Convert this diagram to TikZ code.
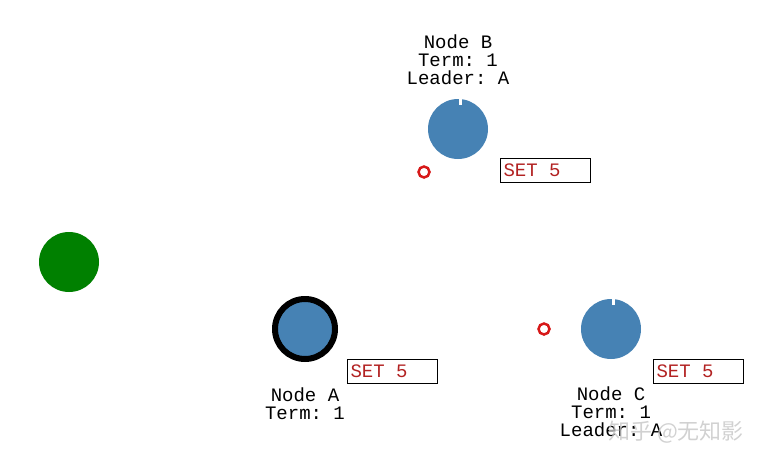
\documentclass[tikz,border=0pt]{standalone}
\usepackage{fontspec}
\setmonofont{Liberation Mono}
\newfontfamily\cjk{Noto Sans CJK SC}
\usetikzlibrary{positioning}
\definecolor{srvblue}{RGB}{70,130,180}
\definecolor{srvgreen}{RGB}{0,128,0}
\definecolor{msgred}{RGB}{215,25,25}
\definecolor{cmdred}{RGB}{178,34,34}
\newcommand\logline[1]{\makebox[84pt][l]{\ttfamily #1}}

\begin{document}
\begin{tikzpicture}[x=1pt, y=-1pt,
  font=\ttfamily\fontsize{19}{18}\selectfont,
  srv/.style={circle, fill=srvblue, minimum size=60pt, inner sep=0pt},
  ldr/.style={srv, draw=black, line width=6pt},
  cl/.style={circle, fill=srvgreen, minimum size=60pt, inner sep=0pt},
  msg/.style={circle, draw=msgred, line width=2.5pt, minimum size=11pt, inner sep=0pt},
  cmd/.style={draw, line width=1pt, anchor=north west, text=cmdred,
              minimum height=24pt, inner xsep=3pt, inner ysep=0pt},
  lbl/.style={align=center, inner sep=0pt},
  notch/.style={white, line width=3pt}]
\useasboundingbox (0,0) rectangle (765,463);
% client
\node[cl] (client) at (69,262) {};
% servers
\node[srv] (nb) at (458,129) {};
\node[ldr] (na) at (305,329) {};
\node[srv] (nc) at (611,329) {};
\draw[notch] ([xshift=2pt]nb.north) -- ++(0,6);
\draw[notch] ([xshift=2pt]nc.north) -- ++(0,6);
% labels
\node[lbl] (lb) at (458,60) {Node B\\Term: 1\\Leader: A};
\node[lbl] (la) at (305,403.5) {Node A\\Term: 1};
\node[lbl] (lc) at (611,412) {Node C\\Term: 1\\Leader: A};
% messages in flight
\node[msg] (mb) at (424,172) {};
\node[msg] (mc) at (544,329) {};
% logs
\node[cmd] (logb) at (500,158) {\logline{SET 5}};
\node[cmd] (loga) at (347,359) {\logline{SET 5}};
\node[cmd] (logc) at (653,359) {\logline{SET 5}};
% watermark
\node[text=gray!45, opacity=.8, font=\cjk\fontsize{22}{22}\selectfont] (wm) at (676,432) {知乎 @无知影};
\end{tikzpicture}
\end{document}
